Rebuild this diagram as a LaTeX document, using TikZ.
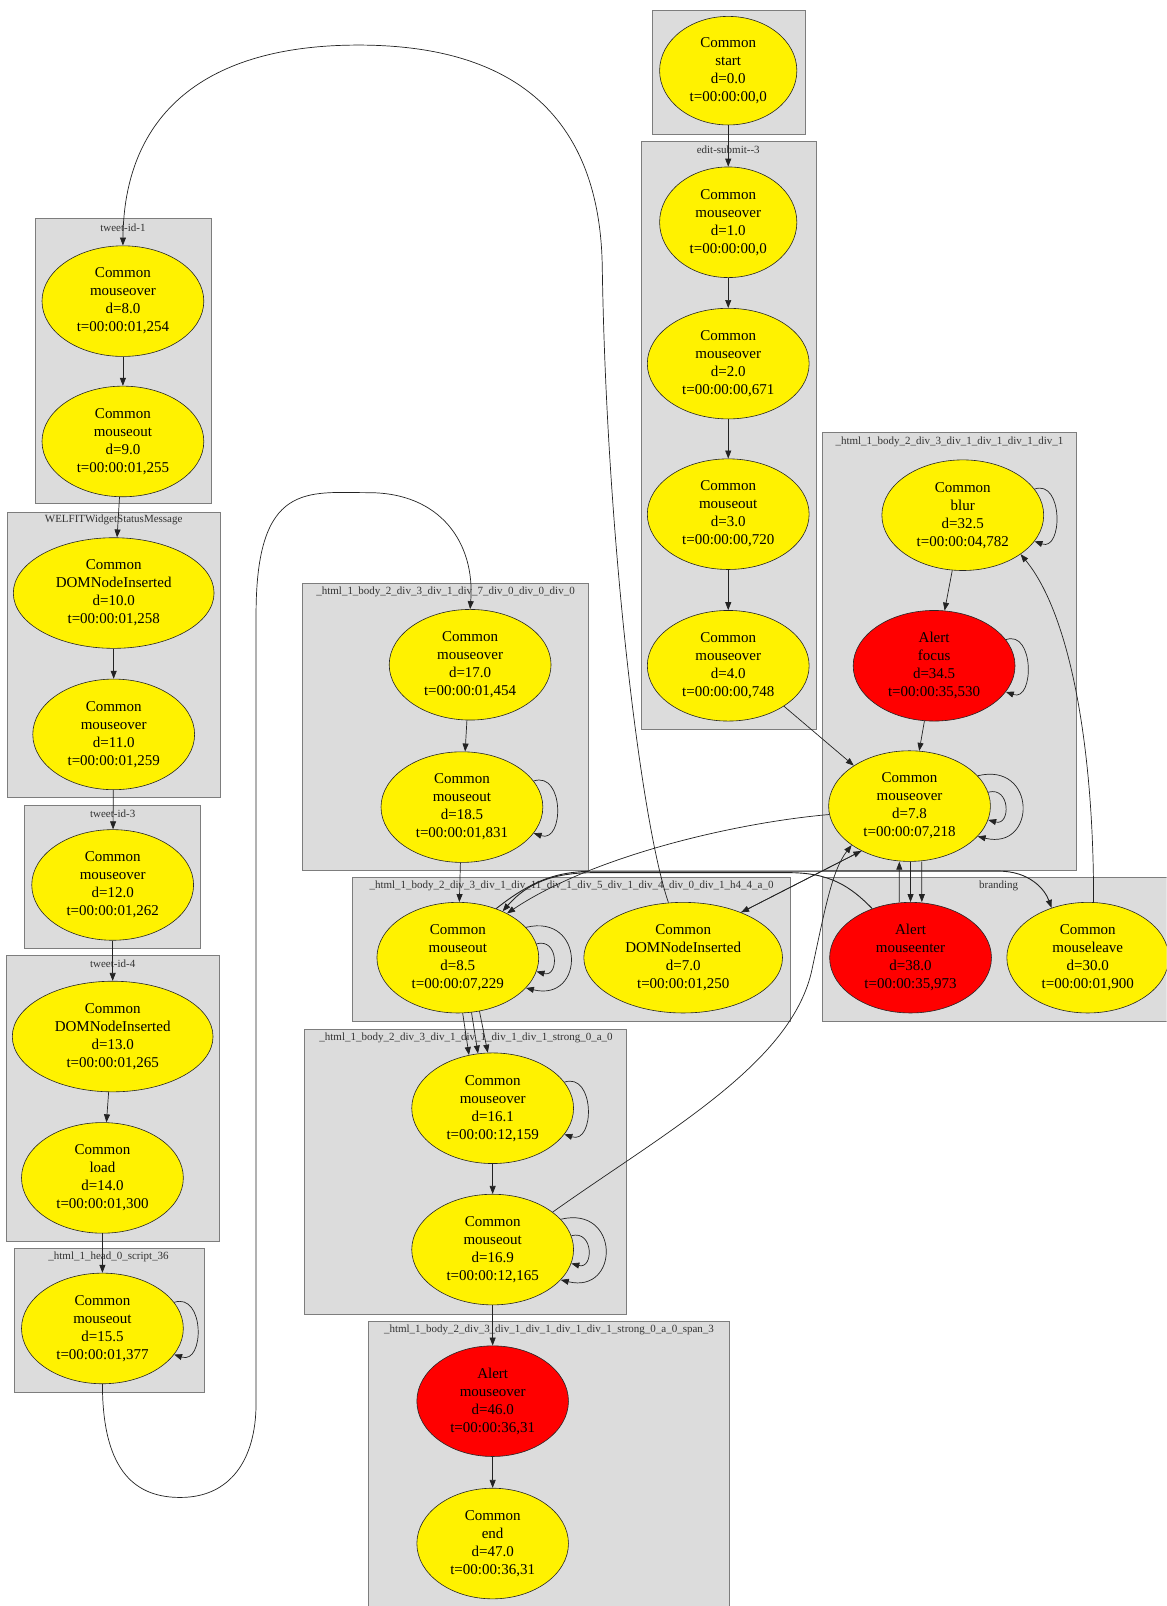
\documentclass[tikz,border=0pt]{standalone}
\usepackage{fontspec}
\setmainfont{Liberation Serif}
\usetikzlibrary{shapes.geometric,arrows.meta}
\definecolor{clfill}{RGB}{220,220,220}
\definecolor{clline}{RGB}{125,125,125}
\definecolor{edgec}{RGB}{35,35,35}
\begin{document}
\begin{tikzpicture}[x=1.0246pt,y=-1.0246pt,
  clbox/.style={fill=clfill,draw=clline,line width=0.9pt},
  cllab/.style={font=\fontsize{11}{12}\selectfont,text=black!80,inner sep=0pt},
  ev/.style 2 args={ellipse,draw=black!85,line width=0.6pt,minimum width={2.0492pt*#1},minimum height={2.0492pt*#2},inner sep=0pt,align=center,font=\fontsize{15}{18}\selectfont},
  yel/.style={fill=yellow},
  rd/.style={fill=red},
  arr/.style={draw=edgec,line width=0.7pt,-{Triangle[length=8pt,width=6pt]}}
]
\useasboundingbox (0,0) rectangle (1139,1568);
\fill[white] (0,0) rectangle (1139,1568);
\clip (0,0) rectangle (1139,1568);

% clusters
\path[clbox] (637,10) rectangle (786,131);
\path[clbox] (626,138) rectangle (797,712);
\node[cllab] (l1) at (711,146) {edit-submit-{}-3};
\path[clbox] (35,213) rectangle (206,492);
\node[cllab] (l2) at (120,222) {tweet-id-1};
\path[clbox] (7,500) rectangle (215,779);
\node[cllab] (l3) at (111,508) {WELFITWidgetStatusMessage};
\path[clbox] (24,786) rectangle (196,926);
\node[cllab] (l4) at (110,794) {tweet-id-3};
\path[clbox] (6,933) rectangle (214,1212);
\node[cllab] (l5) at (110,941) {tweet-id-4};
\path[clbox] (14,1219) rectangle (200,1359);
\node[cllab] (l6) at (106,1227) {\_html\_1\_head\_0\_script\_36};
\path[clbox] (295,570) rectangle (575,850);
\node[cllab] (l7) at (435,578) {\_html\_1\_body\_2\_div\_3\_div\_1\_div\_7\_div\_0\_div\_0\_div\_0};
\path[clbox] (344,857) rectangle (772,997);
\node[cllab] (l8) at (558,865) {\_html\_1\_body\_2\_div\_3\_div\_1\_div\_11\_div\_1\_div\_5\_div\_1\_div\_4\_div\_0\_div\_1\_h4\_4\_a\_0};
\path[clbox] (803,422) rectangle (1051,850);
\node[cllab] (l9) at (927,431) {\_html\_1\_body\_2\_div\_3\_div\_1\_div\_1\_div\_1\_div\_1};
\path[clbox] (803,857) rectangle (1145,997);
\node[cllab] (l10) at (975,865) {branding};
\path[clbox] (297,1005) rectangle (612,1283);
\node[cllab] (l11) at (455,1013) {\_html\_1\_body\_2\_div\_3\_div\_1\_div\_1\_div\_1\_div\_1\_strong\_0\_a\_0};
\path[clbox] (360,1290) rectangle (712,1580);
\node[cllab] (l12) at (536,1298) {\_html\_1\_body\_2\_div\_3\_div\_1\_div\_1\_div\_1\_div\_1\_strong\_0\_a\_0\_span\_3};

% nodes
\node[ev={67}{53},yel] (start) at (711,69) {Common\\start\\d=0.0\\t=00:00:00,0};
\node[ev={67}{54},yel] (mo1) at (711,217) {Common\\mouseover\\d=1.0\\t=00:00:00,0};
\node[ev={79}{54},yel] (mo2) at (711,355) {Common\\mouseover\\d=2.0\\t=00:00:00,671};
\node[ev={79}{54},yel] (mout3) at (711,502) {Common\\mouseout\\d=3.0\\t=00:00:00,720};
\node[ev={79}{54},yel] (mo4) at (711,650) {Common\\mouseover\\d=4.0\\t=00:00:00,748};

\node[ev={79}{54},yel] (mo8) at (120,294) {Common\\mouseover\\d=8.0\\t=00:00:01,254};
\node[ev={79}{54},yel] (mout9) at (120,431) {Common\\mouseout\\d=9.0\\t=00:00:01,255};
\node[ev={98}{54},yel] (dni10) at (111,579) {Common\\DOMNodeInserted\\d=10.0\\t=00:00:01,258};
\node[ev={79}{54},yel] (mo11) at (111,717) {Common\\mouseover\\d=11.0\\t=00:00:01,259};
\node[ev={79}{54},yel] (mo12) at (110,864) {Common\\mouseover\\d=12.0\\t=00:00:01,262};
\node[ev={98}{54},yel] (dni13) at (110,1012) {Common\\DOMNodeInserted\\d=13.0\\t=00:00:01,265};
\node[ev={79}{54},yel] (load14) at (100,1150) {Common\\load\\d=14.0\\t=00:00:01,300};
\node[ev={79}{54},yel] (mout15) at (100,1297) {Common\\mouseout\\d=15.5\\t=00:00:01,377};

\node[ev={79}{54},yel] (mo17) at (459,649) {Common\\mouseover\\d=17.0\\t=00:00:01,454};
\node[ev={79}{54},yel] (mout18) at (451,788) {Common\\mouseout\\d=18.5\\t=00:00:01,831};
\node[ev={79}{54},yel] (mout85) at (447,935) {Common\\mouseout\\d=8.5\\t=00:00:07,229};
\node[ev={97}{54},yel] (dni7) at (667,935) {Common\\DOMNodeInserted\\d=7.0\\t=00:00:01,250};
\node[ev={79}{54},yel] (mo161) at (481,1082) {Common\\mouseover\\d=16.1\\t=00:00:12,159};
\node[ev={79}{54},yel] (mout169) at (481,1220) {Common\\mouseout\\d=16.9\\t=00:00:12,165};
\node[ev={74}{54},rd] (amo46) at (481,1368) {Alert\\mouseover\\d=46.0\\t=00:00:36,31};
\node[ev={74}{54},yel] (end47) at (481,1507) {Common\\end\\d=47.0\\t=00:00:36,31};

\node[ev={79}{54},yel] (blur) at (940,503) {Common\\blur\\d=32.5\\t=00:00:04,782};
\node[ev={79}{54},rd] (focus) at (912,650) {Alert\\focus\\d=34.5\\t=00:00:35,530};
\node[ev={79}{54},yel] (mo78) at (888,787) {Common\\mouseover\\d=7.8\\t=00:00:07,218};
\node[ev={79}{54},rd] (menter) at (889,935) {Alert\\mouseenter\\d=38.0\\t=00:00:35,973};
\node[ev={79}{54},yel] (mleave) at (1062,935) {Common\\mouseleave\\d=30.0\\t=00:00:01,900};

% straight edges
\draw[arr] (start) -- (mo1);
\draw[arr] (mo1) -- (mo2);
\draw[arr] (mo2) -- (mout3);
\draw[arr] (mout3) -- (mo4);
\draw[arr] (mo8) -- (mout9);
\draw[arr] (mout9) -- (dni10);
\draw[arr] (dni10) -- (mo11);
\draw[arr] (mo11) -- (mo12);
\draw[arr] (mo12) -- (dni13);
\draw[arr] (dni13) -- (load14);
\draw[arr] (load14) -- (mout15);
\draw[arr] (mo17) -- (mout18);
\draw[arr] (mout18) -- (mout85);
\draw[arr] (mo161) -- (mout169);
\draw[arr] (mout169) -- (amo46);
\draw[arr] (amo46) -- (end47);
\draw[arr] (blur) -- (focus);
\draw[arr] (focus) -- (mo78);
\draw[arr] (mo4.-36) -- (mo78.144);
\draw[arr] (mout85.-85) -- (mo161.114);
\draw[arr] (mout85.-76) -- (mo161.105);
\draw[arr] (mout85.-68) -- (mo161.95);
\draw[arr] (dni7.38) -- (mo78.-137);
\draw[arr] (mo78.-137) -- (dni7.38);
\draw[arr] ([xshift=-11.3pt]menter.north) -- ([xshift=-10.2pt]mo78.south);
\draw[arr] ([xshift=1pt]mo78.south) -- (menter.north);
\draw[arr] ([xshift=12.3pt]mo78.south) -- ([xshift=11.3pt]menter.north);

% self loops
\draw[arr] (mout15.20) .. controls +(30,-10) and +(30,10) .. (mout15.-20);
\draw[arr] (mout18.20) .. controls +(30,-10) and +(30,10) .. (mout18.-20);
\draw[arr] (mout85.10) .. controls +(22,-6) and +(22,6) .. (mout85.-10);
\draw[arr] (mout85.24) .. controls +(58,-14) and +(58,14) .. (mout85.-24);
\draw[arr] (blur.20) .. controls +(28,-10) and +(28,10) .. (blur.-20);
\draw[arr] (focus.20) .. controls +(28,-10) and +(28,10) .. (focus.-20);
\draw[arr] (mo78.10) .. controls +(22,-6) and +(22,6) .. (mo78.-10);
\draw[arr] (mo78.24) .. controls +(58,-14) and +(58,14) .. (mo78.-24);
\draw[arr] (mo161.20) .. controls +(30,-10) and +(30,10) .. (mo161.-20);
\draw[arr] (mout169.10) .. controls +(22,-6) and +(22,6) .. (mout169.-10);
\draw[arr] (mout169.24) .. controls +(58,-14) and +(58,14) .. (mout169.-24);

% long curved edges
\draw[arr] (mout15.south) .. controls (100,1440) and (135,1462) .. (176,1462)
  .. controls (225,1462) and (250,1425) .. (250,1370) -- (250,600)
  .. controls (250,470) and (300,481) .. (360,481)
  .. controls (430,481) and (464,530) .. (mo17.north);
\draw[arr] (dni7.105) .. controls (625,800) and (592,520) .. (588,260)
  .. controls (585,80) and (460,44) .. (350,44)
  .. controls (190,44) and (121,120) .. (mo8.north);
\draw[arr] (mleave.84) .. controls (1068,730) and (1045,600) .. (blur.-34);
\draw[arr] (mout169.32) .. controls (650,1105) and (770,1040) .. (792,950)
  .. controls (805,890) and (812,850) .. (mo78.-146);
\draw[arr] (mo78.186) .. controls (720,803) and (580,835) .. (mout85.42);
\draw[arr,line width=0.9pt] (menter.128) .. controls (830,865) and (810,852) .. (770,852) -- (580,852)
  .. controls (540,852) and (515,862) .. (mout85.46);
\draw[arr,line width=0.9pt] (mout85.52) .. controls (525,855) and (550,850.5) .. (585,850.5) -- (975,850.5)
  .. controls (1005,850.5) and (1020,868) .. (mleave.126);
\end{tikzpicture}
\end{document}
